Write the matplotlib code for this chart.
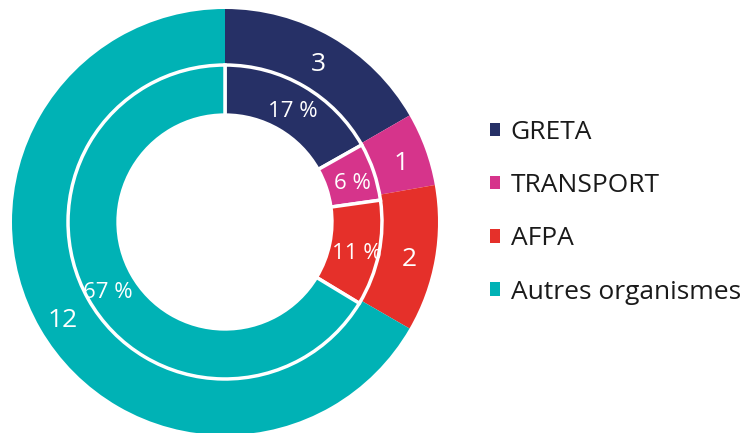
import matplotlib.pyplot as plt
import matplotlib.transforms as mtransforms
import numpy as np

plt.rcParams['font.family'] = ['Open Sans', 'DejaVu Sans']

# Data for the chart
labels = ['GRETA', 'TRANSPORT', 'AFPA', 'Autres organismes']
counts = [3, 1, 2, 12]
percents = [17, 6, 11, 67]
colors = ['#263066', '#d6348b', '#e5302a', '#00b2b5']

fig = plt.figure(figsize=(7.45, 4.33), dpi=100)
# pie axes placed so the circle sits at (225, 222) px with radius 213 px
ax = fig.add_axes([12 / 745, (433 - 222 - 213) / 433, 426 / 745, 426 / 433])

r_out, r_mid, r_in = 1.0, 0.737, 0.502

# outer ring: counts
outer, _ = ax.pie(counts, radius=r_out, colors=colors, startangle=90, counterclock=False,
                  wedgeprops=dict(width=r_out - r_mid, linewidth=0))
# inner ring: percentages
inner, _ = ax.pie(percents, radius=r_mid, colors=colors, startangle=90, counterclock=False,
                  wedgeprops=dict(width=r_mid - r_in, edgecolor='white', linewidth=2.5))

# white line between the two rings
ax.add_artist(plt.Circle((0, 0), r_mid, fill=False, edgecolor='white', linewidth=1.3))

# labels sit a little lower than the bbox centre
lbl_tr = mtransforms.offset_copy(ax.transData, fig=fig, x=0, y=-5, units='dots')

for w, c in zip(outer, counts):
    a = np.deg2rad((w.theta1 + w.theta2) / 2)
    r = (r_out + r_mid) / 2 + 0.01
    ax.text(r * np.cos(a), r * np.sin(a), str(c), color='white', fontsize=19,
            ha='center', va='center', transform=lbl_tr)
for w, p in zip(inner, percents):
    a = np.deg2rad((w.theta1 + w.theta2) / 2)
    r = (r_mid + r_in) / 2 + 0.01
    ax.text(r * np.cos(a), r * np.sin(a), f'{p} %', color='white', fontsize=16,
            ha='center', va='center', transform=lbl_tr)

ax.set_xlim(-1, 1)
ax.set_ylim(-1, 1)
ax.set_aspect('equal')
ax.axis('off')

fig.legend(outer, labels, loc='center left', bbox_to_anchor=(466 / 745, 0.51),
           frameon=False, fontsize=19, handlelength=0.4, handleheight=0.4,
           handletextpad=0.4, labelspacing=1.07, labelcolor='#1a1a1a')

fig.savefig('out.png', dpi=100)
